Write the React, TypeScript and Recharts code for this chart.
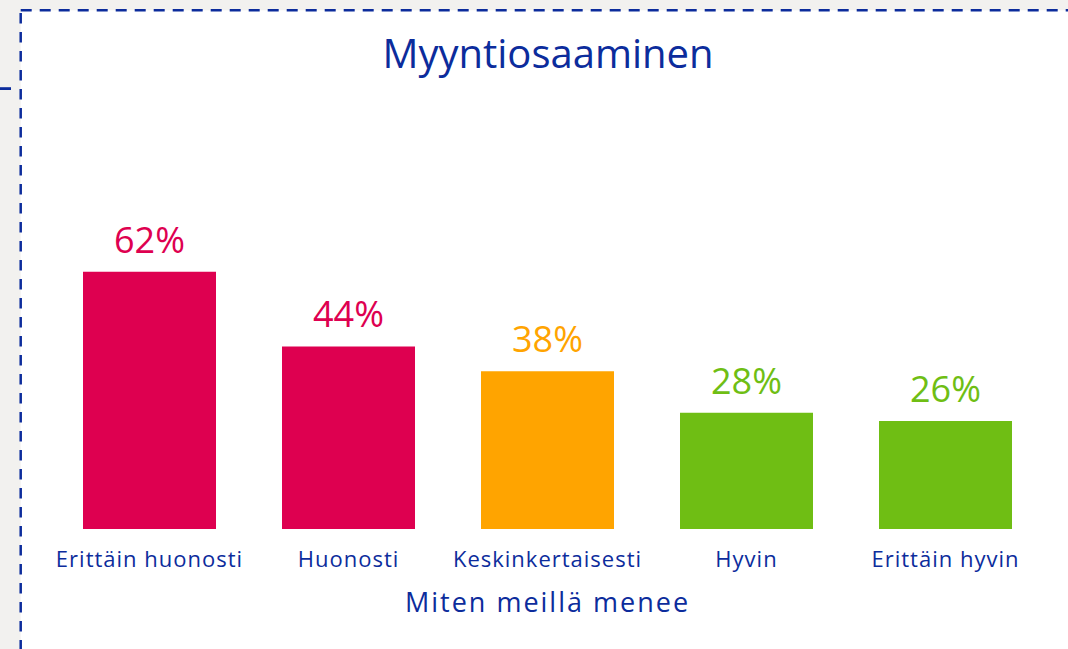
import { BarChart, Bar, XAxis, YAxis, Cell, LabelList } from "recharts";

const categories = [
  "Erittäin huonosti",
  "Huonosti",
  "Keskinkertaisesti",
  "Hyvin",
  "Erittäin hyvin",
];
const shares = [62, 44, 38, 28, 26];
const barColors = ["#de0050", "#de0050", "#ffa400", "#6fbe14", "#6fbe14"];

const data = categories.map((name, i) => ({ name, value: shares[i] }));

const blue = "#0c2c9c";
const font = "'Open Sans', sans-serif";

export default function App() {
  return (
    <div
      style={{
        position: "relative",
        width: 1068,
        height: 649,
        background: "#f2f1ef",
        overflow: "hidden",
        fontFamily: font,
      }}
    >
      <style>{`body { margin: 0; }`}</style>
      {/* white panel with dashed frame */}
      <svg
        width={1068}
        height={649}
        style={{ position: "absolute", left: 0, top: 0 }}
      >
        <rect x={20.7} y={10.3} width={1100} height={700} fill="#fff" />
        <line x1={20.7} y1={10.3} x2={1068} y2={10.3} stroke={blue} strokeWidth={2.5} strokeDasharray="11 8" />
        <line x1={20.7} y1={13} x2={20.7} y2={649} stroke={blue} strokeWidth={2.5} strokeDasharray="10.5 8.5" />
        <line x1={0} y1={88.6} x2={11} y2={88.6} stroke={blue} strokeWidth={2.8} />
        <text x={548} y={68} textAnchor="middle" fill={blue} fontSize={40} fontFamily={font}>
          Myyntiosaaminen
        </text>
      </svg>
      <div style={{ position: "absolute", left: 0, top: 0 }}>
        <BarChart
          width={1068}
          height={649}
          data={data}
          margin={{ top: 114, right: 23, bottom: 20, left: 50 }}
          barCategoryGap={33}
        >
          <YAxis hide domain={[0, 100]} />
          <XAxis
            dataKey="name"
            interval={0}
            axisLine={false}
            tickLine={false}
            tickMargin={16}
            height={100}
            tick={{ fill: blue, fontSize: 22, fontFamily: font, letterSpacing: 1 }}
            label={{
              value: "Miten meillä menee",
              position: "insideBottom",
              offset: 17,
              fill: blue,
              fontSize: 27,
              fontFamily: font,
              letterSpacing: 2,
            }}
          />
          <Bar dataKey="value" isAnimationActive={false}>
            {data.map((d, i) => (
              <Cell key={d.name} fill={barColors[i]} />
            ))}
            <LabelList
              dataKey="value"
              content={(props: any) => {
                const { x, y, width, value, index } = props;
                return (
                  <text
                    x={x + width / 2}
                    y={y - 19}
                    textAnchor="middle"
                    fill={barColors[index]}
                    fontSize={36}
                    fontFamily={font}
                  >
                    {`${value}%`}
                  </text>
                );
              }}
            />
          </Bar>
        </BarChart>
      </div>
    </div>
  );
}
